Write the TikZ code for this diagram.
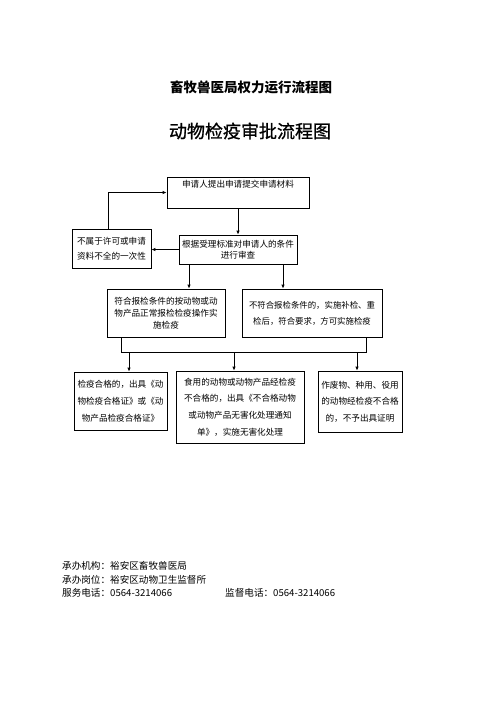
\documentclass[tikz,border=0pt]{standalone}
\usepackage{fontspec}
\setmainfont{Noto Sans CJK SC}
\newfontfamily\titlefont[FakeBold=1]{Noto Sans CJK SC}
\usetikzlibrary{arrows.meta}
\begin{document}
\begin{tikzpicture}[x=1pt,y=-1pt,
 box/.style={draw,line width=0.8pt,inner sep=0pt,align=center,font=\fontsize{8.6}{15}\selectfont},
 arr/.style={-{Latex[length=4pt,width=3.5pt]},line width=0.8pt},
 ln/.style={line width=0.8pt},
 foot/.style={anchor=west,inner sep=0pt,font=\fontsize{9.6}{11}\selectfont}]
\path[use as bounding box] (0,0) rectangle (496,702);
\node[font=\bfseries\fontsize{13.5}{16}\selectfont] (t1) at (251,87) {畜牧兽医局权力运行流程图};
\node[font=\titlefont\fontsize{18}{20}\selectfont] (t2) at (250,131) {动物检疫审批流程图};

\node[box,minimum width=142pt,minimum height=31pt] (b1) at (238,192.5) {申请人提出申请提交申请材料\\[3pt]};
\node[box,minimum width=79pt,minimum height=39pt] (lb) at (111.5,248.5) {不属于许可或申请\\资料不全的一次性};
\node[box,minimum width=118pt,minimum height=29pt,font=\fontsize{8.6}{11.5}\selectfont] (b2) at (238,249.5) {根据受理标准对申请人的条件\\进行审查};
\node[box,minimum width=118pt,minimum height=48pt,font=\fontsize{8.6}{12}\selectfont] (b3) at (166,313) {符合报检条件的按动物或动\\物产品正常报检检疫操作实\\施检疫};
\node[box,minimum width=140pt,minimum height=48pt,font=\fontsize{8.4}{16}\selectfont] (b4) at (312,313) {不符合报检条件的，实施补检、重\\检后，符合要求，方可实施检疫};
\node[box,minimum width=93pt,minimum height=58pt,font=\fontsize{8.6}{17}\selectfont] (b5) at (120.5,401) {检疫合格的，出具《动\\物检疫合格证》或《动\\物产品检疫合格证》};
\node[box,minimum width=128pt,minimum height=72pt,font=\fontsize{8.6}{16.7}\selectfont] (b6) at (240,407) {食用的动物或动物产品经检疫\\不合格的，出具《不合格动物\\或动物产品无害化处理通知\\单》，实施无害化处理};
\node[box,minimum width=84pt,minimum height=61pt,font=\fontsize{8.6}{16.5}\selectfont] (b7) at (360,401.5) {作废物、种用、役用\\的动物经检疫不合格\\的，不予出具证明};

\coordinate (c1) at (189,0);
\coordinate (c2) at (283,0);
\coordinate (c3) at (121,0);
\coordinate (c4) at (366,0);
\coordinate (d1) at (129,0);
\coordinate (d2) at (234,0);
\coordinate (d3) at (357,0);
\coordinate (j) at (0,352);

\draw[arr] (b1.south) -- (b2.north);
\draw[arr] (b2.west) -- (b2.west -| lb.east);
\draw[arr] ([xshift=-3.5pt]lb.north) |- (b1.west);
\draw[arr] (b2.south -| c1) -- (b3.north -| c1);
\draw[arr] (b2.south -| c2) -- (b4.north -| c2);
\draw[ln] (b3.south -| c3) -- (c3 |- j) -- (c4 |- j) -- (b4.south -| c4);
\draw[arr] (d1 |- j) -- (b5.north -| d1);
\draw[arr] (d2 |- j) -- (b6.north -| d2);
\draw[arr] (d3 |- j) -- (b7.north -| d3);

\node[foot] (f1) at (62,566) {承办机构：裕安区畜牧兽医局};
\node[foot] (f2) at (62,580) {承办岗位：裕安区动物卫生监督所};
\node[foot] (f3) at (62,593) {服务电话：0564-3214066};
\node[foot] (f4) at (225,593) {监督电话：0564-3214066};
\end{tikzpicture}
\end{document}
